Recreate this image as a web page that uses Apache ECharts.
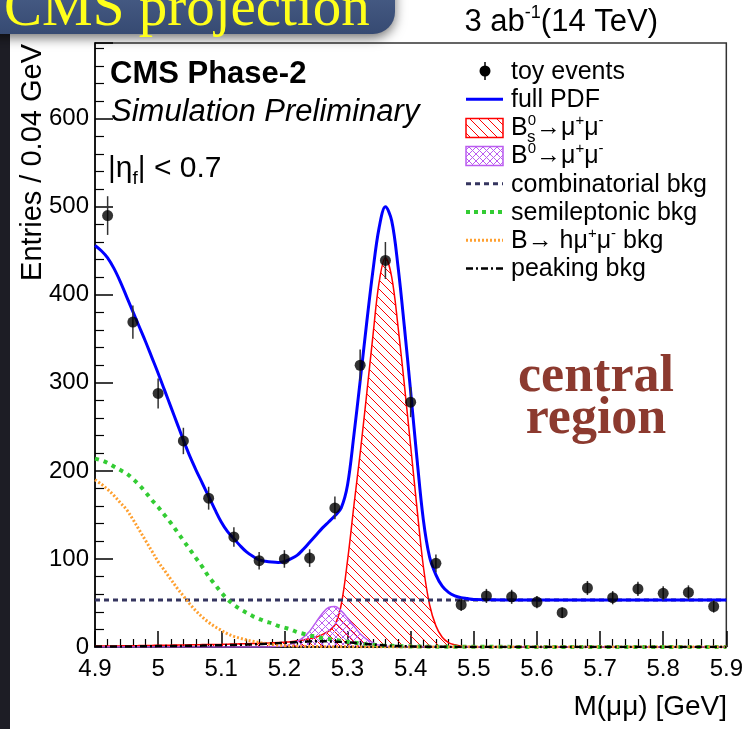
<!DOCTYPE html>
<html>
<head>
<meta charset="utf-8">
<script src="https://cdn.jsdelivr.net/npm/echarts@6/dist/echarts.min.js"></script>
<style>
  html, body { margin: 0; padding: 0; background: #fff; }
  #chart { width: 746px; height: 729px; }
</style>
</head>
<body>
<div id="chart"></div>
<script>
// toy data, 0.04 GeV bins
const toyX = [4.92, 4.96, 5.00, 5.04, 5.08, 5.12, 5.16, 5.20, 5.24, 5.28, 5.32, 5.36, 5.40,
  5.44, 5.48, 5.52, 5.56, 5.60, 5.64, 5.68, 5.72, 5.76, 5.80, 5.84, 5.88];
const toyY = [490, 369, 288, 234, 169, 125, 98, 100, 101, 158, 320, 439, 278,
  95, 48, 58, 57, 51, 39, 67, 56, 66, 61, 62, 46];
const toyErr = [22, 19, 17, 15, 13, 11, 10, 10, 10, 13, 18, 21, 17,
  10, 7, 8, 8, 7, 6, 8, 7.5, 8, 8, 8, 7];

// fit components sampled along M(mumu)
const massGrid = [4.90, 4.91, 4.92, 4.93, 4.94, 4.95, 4.96, 4.97, 4.98, 4.99,
  5.00, 5.01, 5.02, 5.03, 5.04, 5.05, 5.06, 5.07, 5.08, 5.09,
  5.10, 5.11, 5.12, 5.13, 5.14, 5.15, 5.16, 5.17, 5.18, 5.19,
  5.20, 5.21, 5.22, 5.23, 5.24, 5.25, 5.26, 5.27, 5.28, 5.29,
  5.30, 5.31, 5.32, 5.33, 5.34, 5.35, 5.36, 5.37, 5.38, 5.39,
  5.40, 5.41, 5.42, 5.43, 5.44, 5.45, 5.46, 5.47, 5.48, 5.49,
  5.50, 5.60, 5.70, 5.80, 5.90];
const fullPdf = [456, 450, 442, 430, 415, 398, 381, 364, 347, 329,
  311, 292, 273, 254, 235, 217, 201, 186, 171, 156,
  142, 131, 123, 115, 108, 103, 99, 97.5, 96.5, 96,
  97, 100, 104, 111, 119, 127, 135, 142, 149, 158,
  184, 240, 302, 366, 426, 476, 500, 484, 432, 364,
  290, 214, 145, 102, 82, 69, 62, 58, 56, 55,
  54, 53.5, 53.5, 53.5, 53.5];
const bsSignal = [1, 1, 1, 1.2, 1.3, 1.5, 1.5, 1.6, 1.7, 1.8,
  2, 2, 2.1, 2.2, 2.3, 2.5, 2.6, 2.7, 2.8, 2.9,
  3, 3.2, 3.4, 3.6, 3.8, 4, 4.2, 4.4, 4.7, 5,
  5.5, 6, 7, 8, 9.5, 11, 14, 18, 25, 48,
  98, 160, 220, 285, 352, 414, 442, 420, 364, 298,
  228, 158, 92, 48, 24, 11, 5, 2.5, 1, 0.5,
  0.2, 0, 0, 0, 0];
const bdSignal = [0, 0, 0, 0, 0, 0, 0, 0, 0, 0,
  0, 0, 0, 0, 0, 0, 0, 0, 0, 0,
  0, 0, 0, 0, 0, 0, 0, 0, 0.2, 0.5,
  1, 3, 6, 11, 18, 28, 38, 45, 46, 41,
  33, 24, 15, 9, 5, 2, 1, 0, 0, 0,
  0, 0, 0, 0, 0, 0, 0, 0, 0, 0,
  0, 0, 0, 0, 0];
const semilepBkg = [214, 212, 209, 205, 201, 197, 191, 184, 176, 167,
  159, 150, 141, 131, 121, 111, 101, 91, 80, 71,
  62, 54, 48, 43, 39, 35, 32, 29, 27, 24,
  22, 20, 17, 15, 13, 12, 10, 9, 8, 7,
  6, 5, 4, 3, 2.5, 2, 1.5, 1.3, 1, 0.9,
  0.7, 0.6, 0.5, 0.4, 0.4, 0.3, 0.3, 0.2, 0.2, 0.2,
  0.2, 0.1, 0.1, 0.1, 0.1];
const hmumuBkg = [190, 185, 179, 172, 164, 156, 145, 133, 121, 109,
  97, 87, 77, 67, 58, 49, 41, 34, 28, 23,
  19, 15, 12, 10, 8, 6.5, 5, 4, 3, 2,
  1.5, 1.2, 1, 0.8, 0.6, 0.5, 0.4, 0.3, 0.3, 0.2,
  0.2, 0.2, 0.1, 0.1, 0.1, 0, 0, 0, 0, 0,
  0, 0, 0, 0, 0, 0, 0, 0, 0, 0,
  0, 0, 0, 0, 0];
const peakingBkg = [0.5, 0.5, 0.5, 0.6, 0.6, 0.7, 0.7, 0.8, 0.8, 0.9,
  1, 1, 1.1, 1.2, 1.3, 1.4, 1.5, 1.6, 1.8, 1.9,
  2, 2.2, 2.4, 2.6, 2.8, 3, 3.3, 3.6, 4, 4.4,
  4.8, 5.2, 5.6, 6, 6.3, 6.5, 6.5, 6.4, 6.2, 5.8,
  5.3, 4.7, 4, 3.4, 2.8, 2.3, 1.8, 1.4, 1.1, 0.8,
  0.6, 0.5, 0.4, 0.3, 0.2, 0.2, 0.1, 0.1, 0.1, 0,
  0, 0, 0, 0, 0];
const combX = [4.9, 5.9];
const combY = [53.3, 53.3];

const legendLabels = ['toy events', 'full PDF', 'B{sp|0}→μ{sp|+}μ{sp|-}', 'B{sp|0}→μ{sp|+}μ{sp|-}',
  'combinatorial bkg', 'semileptonic bkg', 'B→ hμ{sp|+}μ{sp|-} bkg', 'peaking bkg'];

const SANS = '"Liberation Sans", Arial, Helvetica, sans-serif';
const SERIF = '"Liberation Serif", "Times New Roman", serif';
const RED = '#ff0000';
const VIOLET = '#bb5cf0';
const NAVY = '#35355f';
const GREEN = '#33cc33';
const ORANGE = '#ffa030';

function pairs(xs, ys) {
  return xs.map((x, i) => [x, ys[i]]);
}

function hatch(color, size, cross) {
  const c = document.createElement('canvas');
  c.width = size;
  c.height = size;
  const g = c.getContext('2d');
  g.strokeStyle = color;
  g.lineWidth = 1;
  g.beginPath();
  for (const o of [-size, 0, size]) {
    g.moveTo(o, 0);
    g.lineTo(o + size, size);
    if (cross) {
      g.moveTo(o, size);
      g.lineTo(o + size, 0);
    }
  }
  g.stroke();
  return c;
}

const bsFill = { image: hatch(RED, 9, false), repeat: 'repeat' };
const bdFill = { image: hatch(VIOLET, 7, true), repeat: 'repeat' };

function curve(name, ys, color, width, type, z) {
  return {
    name, type: 'line', data: pairs(massGrid, ys), showSymbol: false, smooth: 0.35,
    z, lineStyle: { color, width, type }, silent: true,
  };
}

const rich = {
  sp: { fontSize: 15, verticalAlign: 'top', lineHeight: 14, fontFamily: SANS, fill: '#000' },
};

// legend, drawn by hand to mimic the ROOT legend
const legX = 466, legTextX = 511, legY0 = 71, legDY = 28.2;
const ly = (i) => legY0 + i * legDY;
const legend = legendLabels.map((label, i) => ({
  type: 'text', x: legTextX, y: ly(i) + 1, z: 100,
  style: { text: label, font: '25px ' + SANS, fill: '#000', verticalAlign: 'middle', lineHeight: 30, rich },
}));
legend.push(
  { type: 'line', shape: { x1: 485, y1: ly(0) - 9, x2: 485, y2: ly(0) + 9 }, style: { stroke: '#000', lineWidth: 1.5 }, z: 100 },
  { type: 'circle', shape: { cx: 485, cy: ly(0), r: 5.5 }, style: { fill: '#000' }, z: 100 },
  { type: 'line', shape: { x1: legX, y1: ly(1), x2: legX + 37, y2: ly(1) }, style: { stroke: '#0000ff', lineWidth: 3 }, z: 100 },
  { type: 'rect', shape: { x: legX, y: ly(2) - 9, width: 37, height: 19 }, style: { fill: bsFill, stroke: RED, lineWidth: 1.5 }, z: 100 },
  { type: 'rect', shape: { x: legX, y: ly(3) - 9, width: 37, height: 19 }, style: { fill: bdFill, stroke: VIOLET, lineWidth: 1.5 }, z: 100 },
  { type: 'line', shape: { x1: legX, y1: ly(4), x2: legX + 37, y2: ly(4) }, style: { stroke: NAVY, lineWidth: 3, lineDash: [5, 4] }, z: 100 },
  { type: 'line', shape: { x1: legX, y1: ly(5), x2: legX + 37, y2: ly(5) }, style: { stroke: GREEN, lineWidth: 4, lineDash: [4, 4] }, z: 100 },
  { type: 'line', shape: { x1: legX, y1: ly(6), x2: legX + 37, y2: ly(6) }, style: { stroke: ORANGE, lineWidth: 3, lineDash: [2, 2] }, z: 100 },
  { type: 'line', shape: { x1: legX, y1: ly(7), x2: legX + 37, y2: ly(7) }, style: { stroke: '#000', lineWidth: 2.5, lineDash: [7, 3, 2, 3] }, z: 100 },
  { type: 'text', x: legTextX + 16, y: ly(2) + 10, z: 100, style: { text: 's', font: '17px ' + SANS, fill: '#000', verticalAlign: 'middle' } }
);

const chart = echarts.init(document.getElementById('chart'), null, { renderer: 'canvas' });

chart.setOption({
  animation: false,
  backgroundColor: '#fff',
  grid: { left: 95, right: 19, top: 43, bottom: 82, show: true, borderColor: '#333', borderWidth: 1.5 },
  xAxis: {
    type: 'value', min: 4.9, max: 5.9, interval: 0.1,
    axisLine: { show: true, lineStyle: { color: '#000', width: 1.5 } },
    axisTick: { show: true, inside: true, length: 16, lineStyle: { color: '#000', width: 1.5 } },
    minorTick: { show: true, splitNumber: 5, length: 8, lineStyle: { color: '#000', width: 1.2 } },
    splitLine: { show: false },
    axisLabel: { color: '#000', fontSize: 24, fontFamily: SANS, margin: 10 },
  },
  yAxis: {
    type: 'value', min: 0, max: 686, interval: 100,
    axisLine: { show: true, lineStyle: { color: '#000', width: 1.5 } },
    axisTick: { show: true, inside: true, length: 18, lineStyle: { color: '#000', width: 1.5 } },
    minorTick: { show: true, splitNumber: 5, length: 9, lineStyle: { color: '#000', width: 1.2 } },
    splitLine: { show: false },
    axisLabel: { color: '#000', fontSize: 24, fontFamily: SANS, margin: 6, showMaxLabel: false },
  },
  series: [
    Object.assign(curve('Bs', bsSignal, RED, 1.5, 'solid', 3), { areaStyle: { color: bsFill, opacity: 1 } }),
    Object.assign(curve('B0', bdSignal, VIOLET, 1.5, 'solid', 4), { areaStyle: { color: bdFill, opacity: 1 } }),
    {
      name: 'combinatorial', type: 'line', data: pairs(combX, combY), showSymbol: false, z: 5, silent: true,
      lineStyle: { color: NAVY, width: 3, type: [5, 4] },
    },
    curve('semileptonic', semilepBkg, GREEN, 4, [4, 5], 6),
    curve('hmumu', hmumuBkg, ORANGE, 3, [2, 2], 6),
    curve('peaking', peakingBkg, '#000', 2.5, [7, 3, 2, 3], 7),
    curve('full PDF', fullPdf, '#0000ff', 3, 'solid', 8),
    {
      name: 'errors', type: 'custom', z: 9, silent: true,
      data: toyX.map((x, i) => [x, toyY[i], toyErr[i]]),
      renderItem: (params, api) => {
        const lo = api.coord([api.value(0), api.value(1) - api.value(2)]);
        const hi = api.coord([api.value(0), api.value(1) + api.value(2)]);
        return {
          type: 'line', shape: { x1: lo[0], y1: lo[1], x2: hi[0], y2: hi[1] },
          style: { stroke: '#333', lineWidth: 1.5 },
        };
      },
    },
    {
      name: 'toy events', type: 'scatter', z: 10, silent: true,
      data: pairs(toyX, toyY), symbol: 'circle', symbolSize: 11,
      itemStyle: { color: '#000' },
    },
  ],
  graphic: [
    // page decoration around the plot
    { type: 'rect', shape: { x: 0, y: 0, width: 10, height: 729 }, style: { fill: '#1d1d25' }, z: 50 },
    {
      type: 'rect', shape: { x: -30, y: -30, width: 425, height: 64, r: [0, 0, 22, 0] }, z: 60,
      style: {
        fill: new echarts.graphic.LinearGradient(0, 0, 0, 1, [
          { offset: 0, color: '#50658f' }, { offset: 1, color: '#364a72' },
        ]),
        shadowBlur: 12, shadowColor: 'rgba(0,0,0,0.55)', shadowOffsetY: 4,
      },
    },
    {
      type: 'text', x: 4, y: 10, z: 61,
      style: {
        text: 'CMS projection', font: '57px ' + SERIF, fill: '#ffff1a', verticalAlign: 'middle',
        shadowBlur: 3, shadowColor: 'rgba(0,0,0,0.4)', shadowOffsetY: 1,
      },
    },
    {
      type: 'text', x: 658, y: 22, z: 100,
      style: {
        text: '3 ab{sp|-1}(14 TeV)', font: '31px ' + SANS, fill: '#000', align: 'right', verticalAlign: 'middle', lineHeight: 36,
        rich: { sp: { fontSize: 18, verticalAlign: 'top', lineHeight: 16, fontFamily: SANS, fill: '#000' } },
      },
    },
    { type: 'text', x: 110, y: 74, z: 100, style: { text: 'CMS Phase-2', font: 'bold 31px ' + SANS, fill: '#000', verticalAlign: 'middle' } },
    { type: 'text', x: 111, y: 112, z: 100, style: { text: 'Simulation Preliminary', font: 'italic 31px ' + SANS, fill: '#000', verticalAlign: 'middle' } },
    {
      type: 'text', x: 108, y: 169, z: 100,
      style: {
        text: '|η{sb|f}| < 0.7', font: '30px ' + SANS, fill: '#000', verticalAlign: 'middle', lineHeight: 38,
        rich: { sb: { fontSize: 19, verticalAlign: 'bottom', lineHeight: 14, fontFamily: SANS, fill: '#000' } },
      },
    },
    { type: 'text', x: 596, y: 378, z: 100, style: { text: 'central', font: 'bold 52px ' + SERIF, fill: '#8c3a2f', align: 'center', verticalAlign: 'middle' } },
    { type: 'text', x: 596, y: 420, z: 100, style: { text: 'region', font: 'bold 52px ' + SERIF, fill: '#8c3a2f', align: 'center', verticalAlign: 'middle' } },
    { type: 'text', x: 727, y: 707, z: 100, style: { text: 'M(μμ) [GeV]', font: '28px ' + SANS, fill: '#000', align: 'right', verticalAlign: 'middle' } },
    {
      type: 'text', x: 33, y: 44, rotation: Math.PI / 2, z: 100,
      style: { text: 'Entries / 0.04 GeV', font: '29px ' + SANS, fill: '#000', align: 'right', verticalAlign: 'middle' },
    },
    ...legend,
  ],
});
</script>
</body>
</html>
